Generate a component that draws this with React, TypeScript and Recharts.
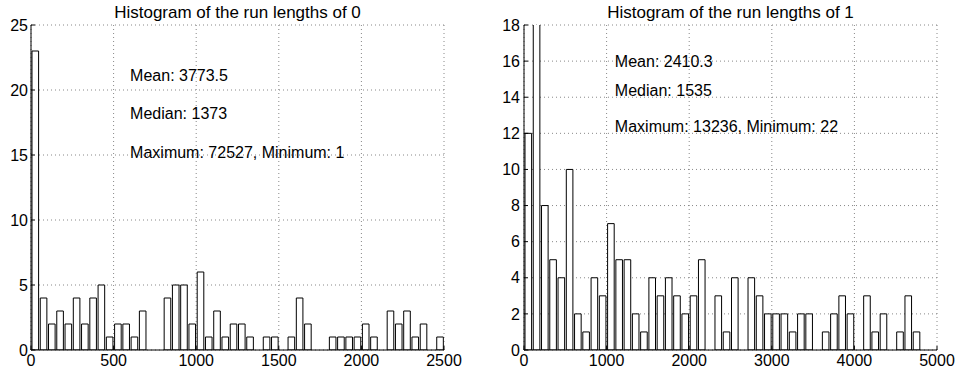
import { Bar, BarChart, CartesianGrid, ReferenceDot, XAxis, YAxis } from 'recharts'

// run lengths of 0: bins of 50
const zeroBins = [
  25, 75, 125, 175, 225, 275, 325, 375, 425, 475,
  525, 575, 625, 675, 725, 775, 825, 875, 925, 975,
  1025, 1075, 1125, 1175, 1225, 1275, 1325, 1375, 1425, 1475,
  1525, 1575, 1625, 1675, 1725, 1775, 1825, 1875, 1925, 1975,
  2025, 2075, 2125, 2175, 2225, 2275, 2325, 2375, 2425, 2475,
]
const zeroCounts = [
  23, 4, 2, 3, 2, 4, 2, 4, 5, 1,
  2, 2, 1, 3, 0, 0, 4, 5, 5, 2,
  6, 1, 3, 1, 2, 2, 1, 0, 1, 1,
  0, 1, 4, 2, 0, 0, 1, 1, 1, 1,
  2, 1, 0, 3, 2, 3, 1, 2, 0, 1,
]
const zeroXTicks = [0, 500, 1000, 1500, 2000, 2500]
const zeroYTicks = [0, 5, 10, 15, 20, 25]
const zeroNotes = ['Mean: 3773.5', 'Median: 1373', 'Maximum: 72527, Minimum: 1']
const zeroNoteY = [21.1, 18.2, 15.2]

// run lengths of 1: bins of 100
const oneBins = [
  50, 150, 250, 350, 450, 550, 650, 750, 850, 950,
  1050, 1150, 1250, 1350, 1450, 1550, 1650, 1750, 1850, 1950,
  2050, 2150, 2250, 2350, 2450, 2550, 2650, 2750, 2850, 2950,
  3050, 3150, 3250, 3350, 3450, 3550, 3650, 3750, 3850, 3950,
  4050, 4150, 4250, 4350, 4450, 4550, 4650, 4750, 4850, 4950,
]
const oneCounts = [
  12, 24, 8, 5, 4, 10, 2, 1, 4, 3,
  7, 5, 5, 2, 1, 4, 3, 4, 3, 2,
  3, 5, 0, 3, 1, 4, 0, 4, 3, 2,
  2, 2, 1, 2, 2, 0, 1, 2, 3, 2,
  0, 3, 1, 2, 0, 1, 3, 1, 0, 0,
]
const oneXTicks = [0, 1000, 2000, 3000, 4000, 5000]
const oneYTicks = [0, 2, 4, 6, 8, 10, 12, 14, 16, 18]
const oneNotes = ['Mean: 2410.3', 'Median: 1535', 'Maximum: 13236, Minimum: 22']
const oneNoteY = [16, 14.4, 12.4]

const FONT = 16
const blank = () => ''

function Histogram({
  title,
  bins,
  counts,
  xTicks,
  yTicks,
  notes,
  noteX,
  noteY,
  yWidth,
  rightMargin,
  tickMargin,
}: {
  title: string
  bins: number[]
  counts: number[]
  xTicks: number[]
  yTicks: number[]
  notes: string[]
  noteX: number
  noteY: number[]
  yWidth: number
  rightMargin: number
  tickMargin: number
}) {
  const data = bins.map((x, i) => ({ x, count: counts[i] }))
  const xDomain = [xTicks[0], xTicks[xTicks.length - 1]]
  const yDomain = [yTicks[0], yTicks[yTicks.length - 1]]
  return (
    <BarChart
      width={479}
      height={373}
      data={data}
      margin={{ top: 25, right: rightMargin, bottom: 0, left: 0 }}
    >
      <CartesianGrid stroke="#888" strokeDasharray="1 3" />
      <XAxis
        dataKey="x"
        type="number"
        domain={xDomain}
        ticks={xTicks}
        interval={0}
        allowDataOverflow
        height={23}
        tickSize={-4}
        tickMargin={9}
        tick={{ fontSize: FONT, fill: '#000' }}
        axisLine={{ stroke: '#000' }}
        tickLine={{ stroke: '#000' }}
      />
      <XAxis
        xAxisId="top"
        orientation="top"
        type="number"
        domain={xDomain}
        ticks={xTicks}
        interval={0}
        height={0}
        tickSize={-4}
        tickFormatter={blank}
        axisLine={{ stroke: '#000' }}
        tickLine={{ stroke: '#000' }}
      />
      <YAxis
        type="number"
        domain={yDomain}
        ticks={yTicks}
        interval={0}
        allowDataOverflow
        width={yWidth}
        tickSize={-4}
        tickMargin={tickMargin}
        tick={{ fontSize: FONT, fill: '#000' }}
        axisLine={{ stroke: '#000' }}
        tickLine={{ stroke: '#000' }}
      />
      <YAxis
        yAxisId="right"
        orientation="right"
        type="number"
        domain={yDomain}
        ticks={yTicks}
        interval={0}
        width={0}
        tickSize={-4}
        tickFormatter={blank}
        axisLine={{ stroke: '#000' }}
        tickLine={{ stroke: '#000' }}
      />
      <Bar
        dataKey="count"
        fill="#fff"
        stroke="#000"
        strokeWidth={1}
        barSize={6.6}
        isAnimationActive={false}
      />
      <ReferenceDot
        x={(xDomain[0] + xDomain[1]) / 2}
        y={yDomain[1]}
        r={0}
        fill="none"
        stroke="none"
        ifOverflow="visible"
        label={{ value: title, position: 'top', offset: 7, fill: '#000', fontSize: 17 }}
      />
      {notes.map((note, i) => (
        <ReferenceDot
          key={note}
          x={noteX}
          y={noteY[i]}
          r={0}
          fill="none"
          stroke="none"
          label={{ value: note, position: 'right', offset: 0, fill: '#000', fontSize: FONT }}
        />
      ))}
    </BarChart>
  )
}

export default function App() {
  return (
    <div style={{ display: 'flex', width: 958, height: 373, background: '#fff', fontFamily: '"Liberation Sans", Arial, sans-serif' }}>
      <style>{'body{margin:0}'}</style>
      <Histogram
        title="Histogram of the run lengths of 0"
        bins={zeroBins}
        counts={zeroCounts}
        xTicks={zeroXTicks}
        yTicks={zeroYTicks}
        notes={zeroNotes}
        noteX={600}
        noteY={zeroNoteY}
        yWidth={31}
        rightMargin={35}
        tickMargin={7}
      />
      <Histogram
        title="Histogram of the run lengths of 1"
        bins={oneBins}
        counts={oneCounts}
        xTicks={oneXTicks}
        yTicks={oneYTicks}
        notes={oneNotes}
        noteX={1100}
        noteY={oneNoteY}
        yWidth={45}
        rightMargin={21}
        tickMargin={8}
      />
    </div>
  )
}
